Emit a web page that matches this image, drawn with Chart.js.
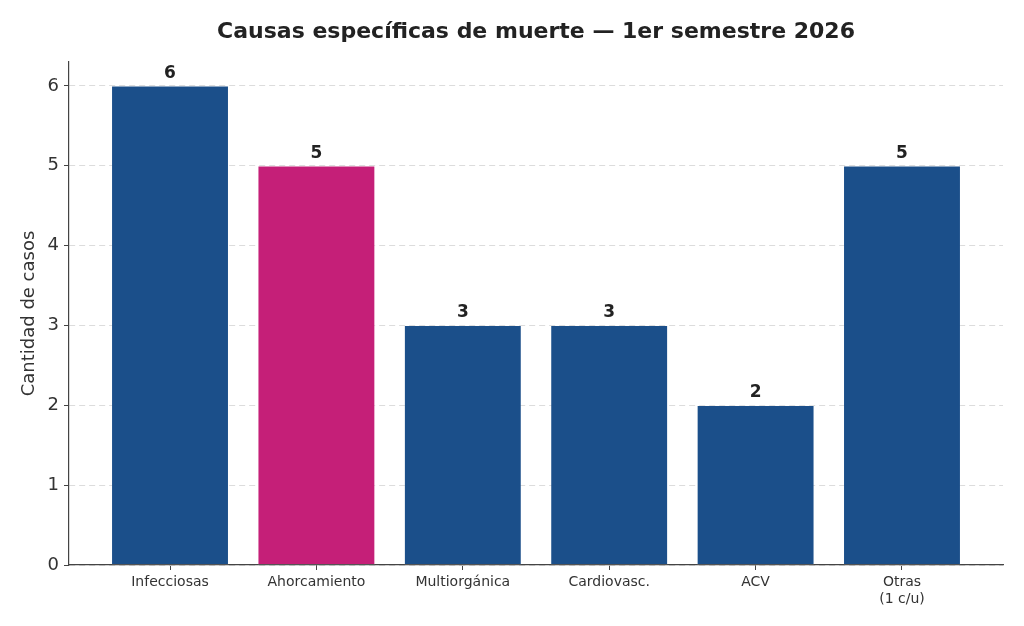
<!DOCTYPE html>
<html>
<head>
<meta charset="utf-8">
<script src="https://cdn.jsdelivr.net/npm/chart.js@4/dist/chart.umd.min.js"></script>
<style>
  html, body { margin: 0; padding: 0; background: #fff; }
  #wrap { width: 1024px; height: 626px; position: relative; }
</style>
</head>
<body>
<div id="wrap"><canvas id="chart"></canvas></div>
<script>
// data
const categories = ['Infecciosas', 'Ahorcamiento', 'Multiorgánica', 'Cardiovasc.', 'ACV', ['Otras', '(1 c/u)']];
const casos = [6, 5, 3, 3, 2, 5];
const barColors = ['#1b4f8a', '#c51f78', '#1b4f8a', '#1b4f8a', '#1b4f8a', '#1b4f8a'];
const yTicks = [0, 1, 2, 3, 4, 5, 6];
const chartTitle = 'Causas específicas de muerte — 1er semestre 2026';

const FONT = "'DejaVu Sans', sans-serif";

// title + value labels drawn by hand
const labelsPlugin = {
    id: 'labelsPlugin',
    afterDatasetsDraw(chart) {
        const ctx = chart.ctx;
        const area = chart.chartArea;
        ctx.save();
        ctx.fillStyle = '#222';
        ctx.textAlign = 'center';
        ctx.font = 'bold 22px ' + FONT;
        ctx.textBaseline = 'middle';
        ctx.fillText(chartTitle, (area.left + area.right) / 2, 32);

        ctx.font = 'bold 17px ' + FONT;
        ctx.textBaseline = 'bottom';
        const meta = chart.getDatasetMeta(0);
        meta.data.forEach((bar, i) => {
            ctx.fillText(String(casos[i]), bar.x, bar.y - 4);
        });
        ctx.restore();
    }
};

const ctx = document.getElementById('chart').getContext('2d');
const myChart = new Chart(ctx, {
    type: 'bar',
    data: {
        datasets: [{
            data: casos.map((v, i) => ({ x: i, y: v })),
            backgroundColor: barColors,
            borderColor: 'rgba(255,255,255,0.35)',
            borderWidth: 0.6,
            borderSkipped: false,
            barPercentage: 0.8,
            categoryPercentage: 1.0
        }]
    },
    options: {
        responsive: true,
        maintainAspectRatio: false,
        animation: false,
        devicePixelRatio: 1,
        layout: { padding: { top: 62, right: 21, left: 0, bottom: 0 } },
        plugins: {
            legend: { display: false },
            title: { display: false },
            tooltip: { enabled: false }
        },
        scales: {
            x: {
                type: 'linear',
                offset: false,
                min: -0.69,
                max: 5.69,
                afterBuildTicks: s => { s.ticks = categories.map((_, i) => ({ value: i })); },
                afterFit: s => { s.height = 61; },
                ticks: {
                    callback: v => categories[v],
                    font: { family: FONT, size: 14 },
                    color: '#333',
                    padding: 4,
                    maxRotation: 0,
                    autoSkip: false
                },
                grid: { offset: false, drawOnChartArea: false, drawTicks: true, tickLength: 5, tickColor: '#444' },
                border: { display: true, color: '#444', width: 1.2 }
            },
            y: {
                min: 0,
                max: 6.3,
                afterBuildTicks: s => { s.ticks = yTicks.map(v => ({ value: v })); },
                afterFit: s => { s.width = 69; },
                ticks: {
                    font: { family: FONT, size: 18 },
                    color: '#333',
                    padding: 5
                },
                grid: { color: '#dcdcdc', lineWidth: 1, drawTicks: true, tickLength: 5, tickColor: '#444', tickBorderDash: [] },
                border: { display: true, color: '#444', width: 1.2, dash: [6, 4] },
                title: {
                    display: true,
                    text: 'Cantidad de casos',
                    font: { family: FONT, size: 18 },
                    color: '#333',
                    padding: { top: 19, bottom: 0 }
                }
            }
        }
    },
    plugins: [labelsPlugin]
});
</script>
</body>
</html>
